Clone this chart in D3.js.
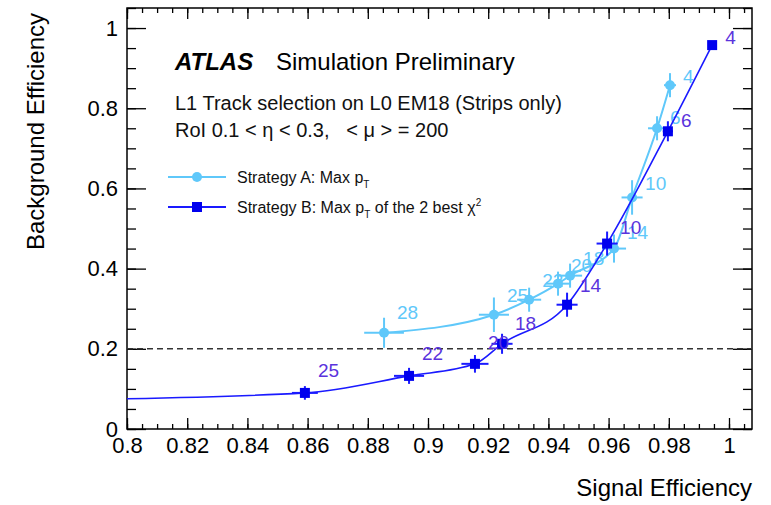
<!DOCTYPE html>
<html>
<head>
<meta charset="utf-8">
<script src="https://cdn.jsdelivr.net/npm/d3@7"></script>
<style>
  body { margin: 0; background: #fff; }
  text { font-family: 'Liberation Sans', Arial, sans-serif; white-space: pre; }
</style>
</head>
<body>
<svg id="chart"></svg>
<script>
// signal eff / background eff per working point, labels are the cut values
const stratA_x = [0.8854, 0.9219, 0.9336, 0.9432, 0.9472, 0.9618, 0.9678, 0.9761, 0.9804];
const stratA_y = [0.24, 0.285, 0.3225, 0.3625, 0.3825, 0.45, 0.5775, 0.75, 0.8575];
const stratA_ex = [0.0066, 0.005, 0.004, 0.004, 0.004, 0.004, 0.0035, 0.003, 0.002];
const stratA_ey = [0.0375, 0.043, 0.03, 0.03, 0.03, 0.035, 0.043, 0.03, 0.03];
const stratA_labels = ['28', '25', '22', '20', '18', '14', '10', '6', '4'];

const stratB_x = [0.78, 0.8591, 0.8937, 0.9156, 0.9246, 0.9462, 0.9595, 0.9797, 0.9944];
const stratB_y = [0.073, 0.09, 0.1325, 0.1625, 0.2125, 0.31, 0.4625, 0.7425, 0.9575];
const stratB_ex = [0.004, 0.0043, 0.005, 0.0045, 0.0035, 0.0035, 0.0035, 0.0017, 0.001];
const stratB_ey = [0.01, 0.017, 0.02, 0.022, 0.025, 0.03, 0.03, 0.025, 0.01];
const stratB_labels = ['28', '25', '22', '20', '18', '14', '10', '6', '4'];

const xTickValues = [0.8, 0.82, 0.84, 0.86, 0.88, 0.9, 0.92, 0.94, 0.96, 0.98, 1];
const yTickValues = [0, 0.2, 0.4, 0.6, 0.8, 1];
const refLine = 0.2;

const W = 771, H = 505;
const margin = { top: 8, right: 19, bottom: 76, left: 127 };
const width = W - margin.left - margin.right;
const height = H - margin.top - margin.bottom;

const colA = '#5fc8fa';
const colB = '#1a1aff';
const colBLabel = '#5a33dd';

const x = d3.scaleLinear().domain([0.8, 0.8 + width / 3010]).range([0, width]);
const y = d3.scaleLinear().domain([0, 1.05]).range([height, 0]);

const svg = d3.select('#chart').attr('width', W).attr('height', H);
const g = svg.append('g').attr('transform', `translate(${margin.left},${margin.top})`);

g.append('clipPath').attr('id', 'plotclip')
  .append('rect').attr('width', width).attr('height', height);

const toPts = (xs, ys, exs, eys, labs) => xs.map((v, i) => ({ x: v, y: ys[i], ex: exs[i], ey: eys[i], lab: labs[i] }));
const ptsA = toPts(stratA_x, stratA_y, stratA_ex, stratA_ey, stratA_labels);
const ptsB = toPts(stratB_x, stratB_y, stratB_ex, stratB_ey, stratB_labels);

// axes: ROOT style, ticks inside, mirrored on top/right
const minorX = d3.range(0.8, 1.0076, 0.005);
const minorY = d3.range(0, 1.051, 0.05);

const styleAxis = sel => {
  sel.select('.domain').remove();
  sel.selectAll('line').attr('stroke', '#000').attr('stroke-width', 1.3);
  sel.selectAll('text').attr('fill', '#000').attr('font-size', 22)
    .attr('font-family', "'Liberation Sans', Arial, sans-serif");
};

g.append('g').attr('transform', `translate(0,${height})`)
  .call(d3.axisBottom(x).tickValues(minorX).tickSize(-5).tickFormat('')).call(styleAxis);
g.append('g').attr('transform', `translate(0,${height})`)
  .call(d3.axisBottom(x).tickValues(xTickValues).tickSize(-11).tickPadding(8).tickFormat(d3.format('')))
  .call(styleAxis);
g.append('g')
  .call(d3.axisTop(x).tickValues(minorX).tickSize(-5).tickFormat('')).call(styleAxis);
g.append('g')
  .call(d3.axisTop(x).tickValues(xTickValues).tickSize(-11).tickFormat('')).call(styleAxis);

g.append('g')
  .call(d3.axisLeft(y).tickValues(minorY).tickSize(-9).tickFormat('')).call(styleAxis);
g.append('g')
  .call(d3.axisLeft(y).tickValues(yTickValues).tickSize(-19).tickPadding(9).tickFormat(d3.format('')))
  .call(styleAxis);
g.append('g').attr('transform', `translate(${width},0)`)
  .call(d3.axisRight(y).tickValues(minorY).tickSize(-9).tickFormat('')).call(styleAxis);
g.append('g').attr('transform', `translate(${width},0)`)
  .call(d3.axisRight(y).tickValues(yTickValues).tickSize(-19).tickFormat('')).call(styleAxis);

g.append('rect').attr('width', width).attr('height', height)
  .attr('fill', 'none').attr('stroke', '#000').attr('stroke-width', 1.5);

// axis titles
svg.append('text').attr('x', margin.left + width).attr('y', 496)
  .attr('text-anchor', 'end').attr('font-size', 24).text('Signal Efficiency');
svg.append('text').attr('transform', 'translate(44,13) rotate(-90)')
  .attr('text-anchor', 'end').attr('font-size', 24).text('Background Efficiency');

// 20% background line
g.append('line')
  .attr('x1', 0).attr('x2', width)
  .attr('y1', y(refLine)).attr('y2', y(refLine))
  .attr('stroke', '#333').attr('stroke-width', 1.5).attr('stroke-dasharray', '6,4');

const plot = g.append('g').attr('clip-path', 'url(#plotclip)');
const line = d3.line().x(d => x(d.x)).y(d => y(d.y)).curve(d3.curveMonotoneX);

const drawSeries = (pts, col, lw, labCol, marker) => {
  const s = plot.append('g');
  s.append('path').datum(pts).attr('d', line)
    .attr('fill', 'none').attr('stroke', col).attr('stroke-width', lw);
  const p = s.selectAll('.pt').data(pts).enter().append('g');
  p.append('line')
    .attr('x1', d => x(d.x - d.ex)).attr('x2', d => x(d.x + d.ex))
    .attr('y1', d => y(d.y)).attr('y2', d => y(d.y))
    .attr('stroke', col).attr('stroke-width', 2);
  p.append('line')
    .attr('x1', d => x(d.x)).attr('x2', d => x(d.x))
    .attr('y1', d => y(d.y - d.ey)).attr('y2', d => y(d.y + d.ey))
    .attr('stroke', col).attr('stroke-width', 2);
  if (marker === 'circle') {
    p.append('circle').attr('cx', d => x(d.x)).attr('cy', d => y(d.y)).attr('r', 5).attr('fill', col);
  } else {
    p.append('rect').attr('x', d => x(d.x) - 5).attr('y', d => y(d.y) - 5)
      .attr('width', 10).attr('height', 10).attr('fill', '#0000ee');
  }
  // labels sit closer to the point where the curve gets steep
  s.selectAll('.lab').data(pts).enter().append('text')
    .attr('x', d => x(d.x) + 13).attr('y', d => y(d.y) - 18 + 18 * d.y)
    .attr('font-size', 19).attr('fill', labCol).text(d => d.lab);
};

drawSeries(ptsA, colA, 2, colA, 'circle');
drawSeries(ptsB, colB, 1.6, colBLabel, 'square');

// labels
svg.append('text').attr('x', 175).attr('y', 70).attr('font-size', 24)
  .attr('font-weight', 'bold').attr('font-style', 'italic').text('ATLAS');
svg.append('text').attr('x', 276).attr('y', 70).attr('font-size', 24).text('Simulation Preliminary');
svg.append('text').attr('x', 175).attr('y', 110).attr('font-size', 20).attr('fill', '#111')
  .text('L1 Track selection on L0 EM18 (Strips only)');
svg.append('text').attr('x', 175).attr('y', 137).attr('font-size', 20).attr('fill', '#111')
  .text('RoI 0.1 < \u03b7 < 0.3,   < \u03bc > = 200');

// legend
const legend = svg.append('g').attr('font-size', 16);
const legItems = [
  { col: colA, marker: 'circle', ly: 177, txt: 'Strategy A: Max p', tail: '' },
  { col: colB, marker: 'square', ly: 207, txt: 'Strategy B: Max p', tail: ' of the 2 best \u03c7' }
];
legItems.forEach((d, i) => {
  legend.append('line').attr('x1', 168).attr('x2', 226).attr('y1', d.ly).attr('y2', d.ly)
    .attr('stroke', d.col).attr('stroke-width', 2);
  if (d.marker === 'circle') {
    legend.append('circle').attr('cx', 197).attr('cy', d.ly).attr('r', 5).attr('fill', d.col);
  } else {
    legend.append('rect').attr('x', 192).attr('y', d.ly - 5).attr('width', 10).attr('height', 10).attr('fill', '#0000ee');
  }
  const t = legend.append('text').attr('x', 237).attr('y', d.ly + 6).attr('fill', '#111');
  t.append('tspan').text(d.txt);
  t.append('tspan').attr('font-size', 10).attr('dy', 5).text('T');
  if (d.tail) {
    t.append('tspan').attr('dy', -5).text(d.tail);
    t.append('tspan').attr('font-size', 10).attr('dy', -7).text('2');
  }
});
</script>
</body>
</html>
